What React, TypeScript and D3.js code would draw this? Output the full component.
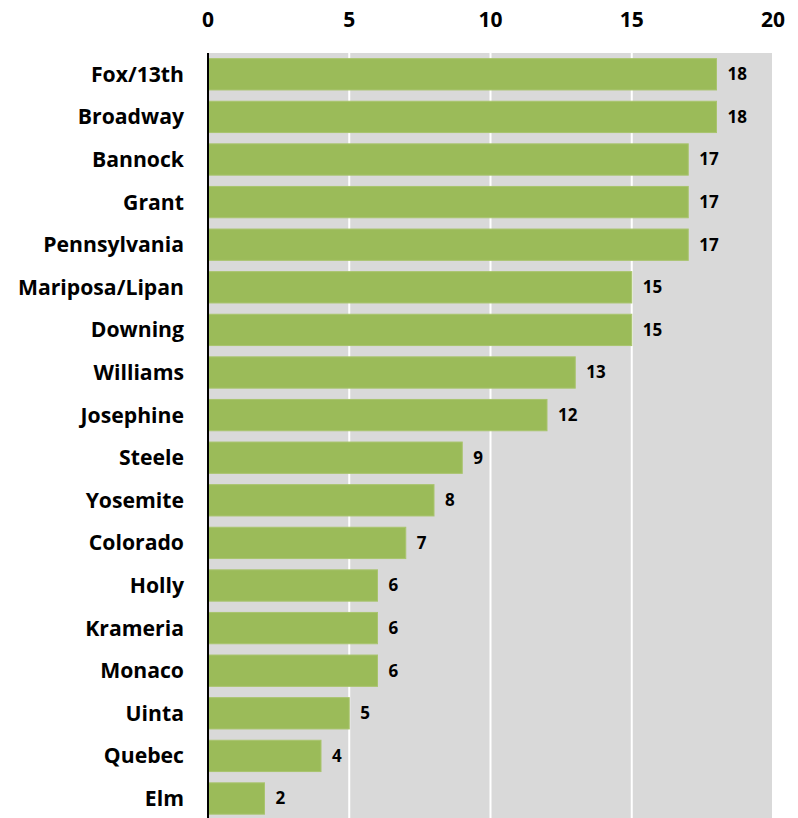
import React from "react";
import * as d3 from "d3";

const categories = ["Fox/13th","Broadway","Bannock","Grant","Pennsylvania","Mariposa/Lipan","Downing","Williams","Josephine","Steele","Yosemite","Colorado","Holly","Krameria","Monaco","Uinta","Quebec","Elm"];
const values = [18,18,17,17,17,15,15,13,12,9,8,7,6,6,6,5,4,2];
const ticks = [0,5,10,15,20];

export default function App() {
  const W = 798, H = 818;
  const x0 = 208, x1 = 773, yTop = 53, yBot = 53 + 18 * 42.6;
  const x = d3.scaleLinear().domain([0, 20]).range([x0, x1]);
  const y = d3.scaleBand<string>().domain(categories).range([yTop, yBot]).paddingInner(0.265).paddingOuter(0.1325);
  const font = "'Open Sans', sans-serif";
  return (
    <svg width={W} height={H} style={{ position: "absolute", left: 0, top: 0, background: "#fff" }}>
      <rect x={x0} y={yTop} width={x1 - x0} height={yBot - yTop} fill="#d9d9d9" />
      {ticks.slice(1).map(t => (
        <line key={t} x1={x(t)} x2={x(t)} y1={yTop} y2={yBot} stroke="#fff" strokeWidth={2} />
      ))}
      {categories.map((c, i) => (
        <g key={c}>
          <rect x={x(0)} y={y(c)!} width={x(values[i]) - x(0)} height={y.bandwidth()} fill="#9bbb59" stroke="#a9c46e" strokeWidth={1} />
          <text x={x(values[i]) + 11} y={y(c)! + y.bandwidth() / 2} dy="0.35em" fontFamily={font} fontWeight="bold" fontSize={17} fill="#000">{values[i]}</text>
          <text x={184} y={y(c)! + y.bandwidth() / 2} dy="0.35em" textAnchor="end" fontFamily={font} fontWeight="bold" fontSize={21.2} fill="#000">{c}</text>
        </g>
      ))}
      <line x1={x0} x2={x0} y1={yTop} y2={H} stroke="#000" strokeWidth={2} />
      {ticks.map(t => (
        <text key={t} x={x(t)} y={20} dy="0.35em" textAnchor="middle" fontFamily={font} fontWeight="bold" fontSize={21} fill="#000">{t}</text>
      ))}
    </svg>
  );
}
